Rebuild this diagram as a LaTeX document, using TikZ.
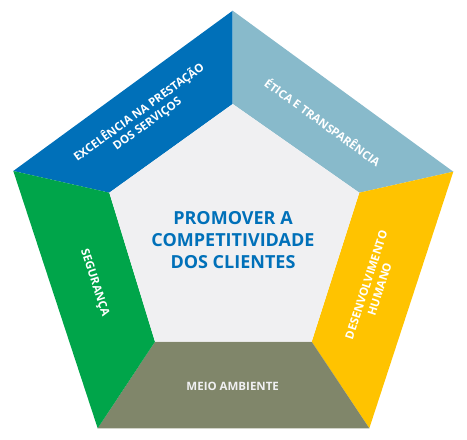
\documentclass[tikz,border=0pt]{standalone}
\usepackage{fontspec}
\setmainfont{Open Sans}
\definecolor{bandblue}{RGB}{0,112,185}
\definecolor{bandsky}{RGB}{136,186,203}
\definecolor{bandyellow}{RGB}{255,195,0}
\definecolor{bandolive}{RGB}{128,134,106}
\definecolor{bandgreen}{RGB}{0,165,74}
\definecolor{corefill}{RGB}{240,240,242}
\tikzset{
    bandlabel/.style={text=white, font=\fontsize{11.5}{14}\selectfont\bfseries, align=center, inner sep=0pt},
    corelabel/.style={text=bandblue, font=\fontsize{18}{22}\selectfont\bfseries, align=center, inner sep=0pt}
}
\begin{document}
\begin{tikzpicture}[x=1pt, y=1pt]
        \useasboundingbox (0,0) rectangle (467,440);
        % outer and inner corners
        \coordinate (ot) at (232.7, 429.3);
        \coordinate (or) at (453.3, 268.3);
        \coordinate (obr) at (369.3, 11.7);
        \coordinate (obl) at (97.7, 11.7);
        \coordinate (ol) at (13.3, 269.0);
        \coordinate (it) at (232.7, 336.0);
        \coordinate (ir) at (359.3, 247.3);
        \coordinate (ibr) at (311.7, 98.3);
        \coordinate (ibl) at (155.0, 98.3);
        \coordinate (il) at (109.3, 247.3);
        % bands
        \fill[bandblue] (ol) -- (ot) -- (it) -- (il) -- cycle;
        \fill[bandsky] (ot) -- (or) -- (ir) -- (it) -- cycle;
        \fill[bandyellow] (or) -- (obr) -- (ibr) -- (ir) -- cycle;
        \fill[bandolive] (obr) -- (obl) -- (ibl) -- (ibr) -- cycle;
        \fill[bandgreen] (obl) -- (ol) -- (il) -- (ibl) -- cycle;
        \fill[corefill] (it) -- (ir) -- (ibr) -- (ibl) -- (il) -- cycle;
        % labels
        \node[corelabel] (core) at (233, 200) {PROMOVER A\\COMPETITIVIDADE\\DOS CLIENTES};
        \node[bandlabel, rotate=36] (excel) at (143, 322) {EXCELÊNCIA NA PRESTAÇÃO\\DOS SERVIÇOS};
        \node[bandlabel, rotate=-36] (etica) at (323, 318) {ÉTICA E TRANSPARÊNCIA};
        \node[bandlabel, rotate=72] (desen) at (373, 153) {DESENVOLVIMENTO\\HUMANO};
        \node[bandlabel, rotate=-72] (segur) at (94.3, 157) {SEGURANÇA};
        \node[bandlabel, text=corefill] (meio) at (232.7, 54) {MEIO AMBIENTE};
    \end{tikzpicture}
\end{document}
